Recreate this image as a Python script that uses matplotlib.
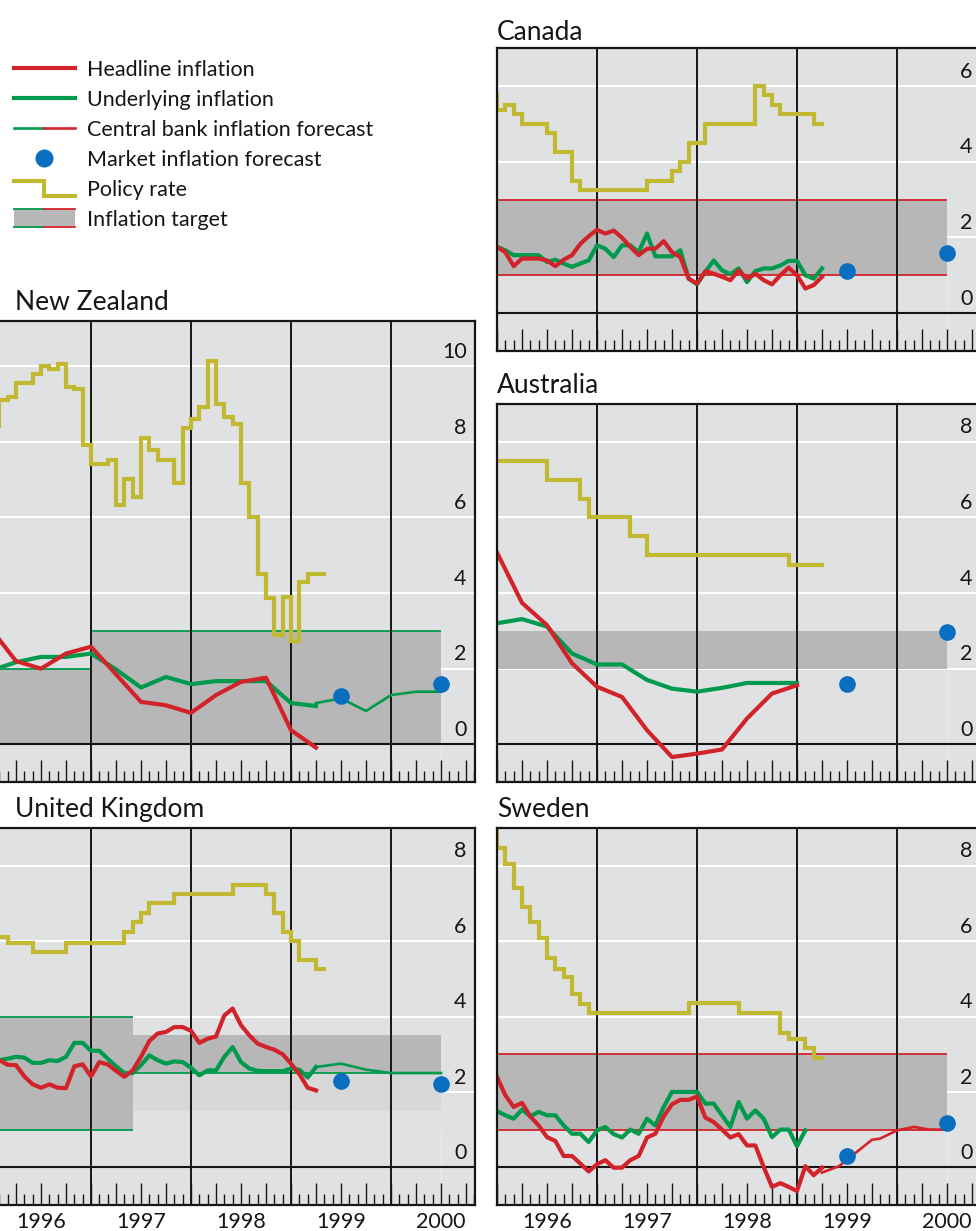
import numpy as np
import matplotlib
matplotlib.use("Agg")
import matplotlib.pyplot as plt
from matplotlib.lines import Line2D
from matplotlib.patches import Rectangle
from matplotlib.legend_handler import HandlerBase
from matplotlib.ticker import FixedLocator, FuncFormatter

plt.rcParams["font.family"] = ["Lato", "DejaVu Sans"]

W, H = 976, 1231

RED = "#d2232a"
GREEN = "#009a4e"
BLUE = "#0a6ec0"
OLIVE = "#c2b933"
BG = "#e0e1e3"
BAND = "#b7b7b7"
BAND_LIGHT = "#d8d8d8"
INK = "#151515"

year_lines = [1997, 1998, 1999, 2000]
market_x = [1999.5, 2000.5]

# ---- Canada (monthly from Jan 1996, policy rate from Dec 1995)
can_headline = [1.75, 1.61, 1.24, 1.44, 1.44, 1.44, 1.39, 1.24, 1.41, 1.53,
                1.83, 2.03, 2.20, 2.10, 2.18, 1.99, 1.75, 1.53, 1.70, 1.70,
                1.90, 1.61, 1.48, 0.91, 0.78, 1.11, 1.04, 0.96, 0.87, 1.13,
                0.91, 1.04, 0.87, 0.76, 1.00, 1.20, 1.00, 0.65, 0.74, 0.96]
can_underlying = [1.75, 1.66, 1.53, 1.53, 1.53, 1.53, 1.35, 1.41, 1.31, 1.22,
                  1.31, 1.39, 1.79, 1.70, 1.48, 1.79, 1.79, 1.61, 2.10, 1.50,
                  1.50, 1.50, 1.66, 0.91, 0.76, 1.09, 1.39, 1.13, 1.03, 1.18,
                  0.82, 1.11, 1.18, 1.18, 1.26, 1.38, 1.38, 1.00, 0.91, 1.18]
can_rate = [5.75, 5.35, 5.5, 5.25, 5.0, 5.0, 5.0, 4.75, 4.25, 4.25, 3.5,
            3.25, 3.25, 3.25, 3.25, 3.25, 3.25, 3.25, 3.25, 3.5, 3.5, 3.5,
            3.75, 4.0, 4.5, 4.5, 5.0, 5.0, 5.0, 5.0, 5.0, 5.0, 6.0, 5.75,
            5.5, 5.25, 5.25, 5.25, 5.25, 5.0, 5.0]
can_market = [1.1, 1.6]
can_bands = [(1996.0, 2000.5, 1.0, 3.0, BAND)]
can_edges = [(1996.0, 2000.5, 1.0, RED), (1996.0, 2000.5, 3.0, RED)]

# ---- New Zealand (quarterly inflation, monthly policy rate)
nz_quarters = [1996.0, 1996.25, 1996.5, 1996.75, 1997.0, 1997.25, 1997.5,
               1997.75, 1998.0, 1998.25, 1998.5, 1998.75, 1999.0, 1999.25]
nz_headline = [3.05, 2.2, 2.0, 2.4, 2.58, 1.85, 1.12, 1.03, 0.83, 1.3,
               1.65, 1.76, 0.37, -0.09]
nz_underlying = [1.95, 2.17, 2.31, 2.31, 2.4, 1.98, 1.5, 1.78, 1.59, 1.67,
                 1.67, 1.67, 1.09, 1.01]
nz_forecast_x = [1999.25, 1999.5, 1999.75, 2000.0, 2000.25, 2000.5]
nz_forecast = [1.09, 1.21, 0.88, 1.30, 1.39, 1.39]
nz_rate = [8.41, 8.41, 9.11, 9.18, 9.57, 9.57, 9.80, 10.01, 9.92, 10.07,
           9.45, 9.40, 7.92, 7.42, 7.42, 7.51, 6.33, 7.01, 6.53, 8.10,
           7.79, 7.51, 7.51, 6.91, 8.36, 8.60, 8.92, 10.13, 9.01, 8.67,
           8.48, 6.92, 6.00, 4.50, 3.86, 2.89, 3.89, 2.74, 4.30, 4.50,
           4.50, 4.50]
nz_market = [1.28, 1.60]
nz_bands = [(1996.0, 1997.0, 0.0, 2.0, BAND), (1997.0, 2000.5, 0.0, 3.0, BAND)]
nz_edges = [(1996.0, 1997.0, 0.0, GREEN), (1996.0, 1997.0, 2.0, GREEN),
            (1997.0, 2000.5, 0.0, GREEN), (1997.0, 2000.5, 3.0, GREEN)]

# ---- Australia (quarterly inflation)
aus_quarters = [1996.0, 1996.25, 1996.5, 1996.75, 1997.0, 1997.25, 1997.5,
                1997.75, 1998.0, 1998.25, 1998.5, 1998.75, 1999.0]
aus_headline = [5.07, 3.74, 3.15, 2.14, 1.52, 1.25, 0.37, -0.34, -0.25,
                -0.14, 0.68, 1.34, 1.56]
aus_underlying = [3.20, 3.31, 3.11, 2.40, 2.11, 2.11, 1.70, 1.47, 1.39,
                  1.49, 1.62, 1.62, 1.62]
aus_rate = [7.5, 7.5, 7.5, 7.5, 7.5, 7.5, 7.5, 7.0, 7.0, 7.0, 7.0, 6.5,
            6.0, 6.0, 6.0, 6.0, 6.0, 5.5, 5.5, 5.0, 5.0, 5.0, 5.0, 5.0,
            5.0, 5.0, 5.0, 5.0, 5.0, 5.0, 5.0, 5.0, 5.0, 5.0, 5.0, 5.0,
            4.75, 4.75, 4.75, 4.75, 4.75]
aus_market = [1.6, 2.98]
aus_bands = [(1996.0, 2000.5, 2.0, 3.0, BAND)]
aus_edges = []

# ---- United Kingdom (monthly)
uk_headline = [2.90, 2.84, 2.72, 2.71, 2.41, 2.20, 2.11, 2.20, 2.11, 2.10,
               2.68, 2.73, 2.41, 2.79, 2.73, 2.56, 2.40, 2.57, 2.93, 3.35,
               3.55, 3.59, 3.72, 3.72, 3.62, 3.30, 3.41, 3.47, 4.03, 4.21,
               3.77, 3.50, 3.28, 3.19, 3.12, 3.00, 2.75, 2.47, 2.11, 2.04]
uk_underlying = [2.80, 2.84, 2.88, 2.93, 2.91, 2.77, 2.77, 2.84, 2.82, 2.93,
                 3.30, 3.30, 3.09, 3.09, 2.88, 2.68, 2.50, 2.50, 2.71, 2.97,
                 2.84, 2.75, 2.81, 2.79, 2.64, 2.44, 2.57, 2.57, 2.93, 3.19,
                 2.79, 2.62, 2.56, 2.55, 2.55, 2.55, 2.62, 2.59, 2.38, 2.66]
uk_forecast_x = [1999.25, 1999.5, 1999.75, 2000.0, 2000.5]
uk_forecast = [2.66, 2.75, 2.59, 2.50, 2.50]
uk_rate = [6.5, 6.1, 6.1, 5.95, 5.95, 5.95, 5.7, 5.7, 5.7, 5.7, 5.95, 5.95,
           5.95, 5.95, 5.95, 5.95, 5.95, 6.25, 6.5, 6.75, 7.0, 7.0, 7.0,
           7.25, 7.25, 7.25, 7.25, 7.25, 7.25, 7.25, 7.5, 7.5, 7.5, 7.5,
           7.25, 6.75, 6.25, 6.0, 5.5, 5.5, 5.25, 5.25]
uk_market = [2.29, 2.20]
uk_bands = [(1996.0, 1997.42, 1.0, 4.0, BAND),
            (1997.42, 2000.5, 2.5, 3.5, BAND),
            (1997.42, 2000.5, 1.5, 2.5, BAND_LIGHT)]
uk_edges = [(1996.0, 1997.42, 1.0, GREEN), (1996.0, 1997.42, 4.0, GREEN),
            (1997.42, 2000.5, 2.5, GREEN)]

# ---- Sweden (monthly)
swe_headline = [2.40, 1.91, 1.60, 1.71, 1.35, 1.11, 0.80, 0.70, 0.30, 0.30,
                0.10, -0.11, 0.08, 0.19, -0.01, -0.01, 0.19, 0.30, 0.79, 0.89,
                1.35, 1.67, 1.79, 1.79, 1.88, 1.32, 1.20, 1.00, 0.79, 0.88,
                0.58, 0.58, 0.01, -0.52, -0.42, -0.52, -0.63, 0.03, -0.21, -0.01]
swe_underlying = [1.49, 1.38, 1.29, 1.53, 1.35, 1.47, 1.38, 1.38, 1.11, 0.89,
                  0.89, 0.67, 0.98, 1.07, 0.88, 0.79, 1.00, 0.89, 1.29, 1.11,
                  1.60, 2.00, 2.00, 2.00, 2.00, 1.69, 1.69, 1.38, 1.07, 1.73,
                  1.29, 1.51, 1.29, 0.80, 1.00, 1.00, 0.56, 0.98]
swe_forecast_x = [1999.25, 1999.42, 1999.5, 1999.75, 1999.83, 2000.0,
                  2000.17, 2000.33, 2000.5]
swe_forecast = [-0.14, 0.03, 0.20, 0.73, 0.76, 0.98, 1.07, 1.00, 1.00]
swe_rate = [8.91, 8.48, 8.05, 7.41, 6.91, 6.51, 6.09, 5.56, 5.27, 5.05,
            4.61, 4.34, 4.09, 4.09, 4.09, 4.09, 4.09, 4.09, 4.09, 4.09,
            4.09, 4.09, 4.09, 4.09, 4.36, 4.36, 4.36, 4.36, 4.36, 4.36,
            4.09, 4.09, 4.09, 4.09, 4.09, 3.57, 3.39, 3.39, 3.16, 2.90, 2.90]
swe_market = [0.29, 1.18]
swe_bands = [(1996.0, 2000.5, 1.0, 3.0, BAND)]
swe_edges = [(1996.0, 2000.5, 1.0, RED), (1996.0, 2000.5, 3.0, RED)]


def monthly(values, first_month=0):
    # first_month=-1 means the series begins in Dec 1995
    return 1996 + (np.arange(len(values)) + first_month) / 12


def rect(x0, y_top, y_bot, w=484):
    return [x0 / W, 1 - y_bot / H, w / W, (y_bot - y_top) / H]


quarters = 1996 + np.arange(20) * 0.25
months = 1996 + np.arange(59) / 12


def year_fmt(x, pos):
    if abs((x - 0.5) - round(x - 0.5)) < 1e-6:
        return str(int(round(x - 0.5)))
    return ""


fig = plt.figure(figsize=(W / 100, H / 100), dpi=100)


def panel(box, title, ylim, yticks, bands, edges, rate, head_x, head,
          under_x, under, market, forecast=None, xlabels=False, title_dx=0,
          title_dy=8):
    ax = fig.add_axes(box)
    ax.set_facecolor(BG)
    ax.set_xlim(1996.0, 2000.84)
    ax.set_ylim(*ylim)

    for v in yticks:
        if v == 0:
            ax.axhline(v, color=INK, lw=1.5, zorder=2.6)
        else:
            ax.axhline(v, color="white", lw=1.5, zorder=0.5)
        ax.annotate(str(v), xy=(1, v), xycoords=("axes fraction", "data"),
                    xytext=(-6, 6), textcoords="offset points",
                    ha="right", va="baseline", fontsize=15.5, color=INK,
                    zorder=7)

    lo_edge = min(b[2] for b in bands)
    ax.vlines(2000.5, ylim[0], lo_edge, color="#ececec", lw=0.8, zorder=0.6)
    for x0, x1, lo, hi, col in bands:
        ax.fill_between([x0, x1], lo, hi, color=col, lw=0, zorder=1)
    for x0, x1, y, col in edges:
        ax.hlines(y, x0, x1, color=col, lw=1.3, zorder=2)

    for yr in year_lines:
        ax.axvline(yr, color=INK, lw=1.4, zorder=2.5)

    ax.plot(monthly(rate, -1), rate, drawstyle="steps-post", color=OLIVE,
            lw=3, solid_joinstyle="miter", zorder=3)
    ax.plot(under_x, under, color=GREEN, lw=3, solid_joinstyle="round",
            zorder=4)
    ax.plot(head_x, head, color=RED, lw=3, solid_joinstyle="round", zorder=5)
    if forecast is not None:
        fx, fy, fc = forecast
        ax.plot(fx, fy, color=fc, lw=1.9, zorder=4.5)
    ax.plot(market_x, market, "o", color=BLUE, ms=12, mew=0, zorder=6,
            clip_on=False)

    ax.xaxis.set_major_locator(FixedLocator(quarters))
    ax.xaxis.set_minor_locator(FixedLocator(months))
    ax.xaxis.set_major_formatter(FuncFormatter(year_fmt))
    ax.tick_params(axis="x", which="major", direction="in", length=15.5,
                   width=1.0, color=INK, labelsize=15.5, pad=5,
                   labelbottom=xlabels, labelcolor=INK)
    ax.tick_params(axis="x", which="minor", direction="in", length=8,
                   width=1.0, color=INK)
    ax.tick_params(axis="y", left=False, labelleft=False)
    for s in ax.spines.values():
        s.set_color(INK)
        s.set_linewidth(1.6)
        s.set_zorder(8)

    ax.annotate(title, xy=(0, 1), xycoords="axes fraction",
                xytext=(title_dx, title_dy), textcoords="offset points",
                ha="left", va="baseline", fontsize=19, color=INK)
    return ax


panel(rect(497, 48, 351), "Canada", (-1, 7), [0, 2, 4, 6], can_bands,
      can_edges, can_rate, monthly(can_headline), can_headline,
      monthly(can_underlying), can_underlying, can_market, title_dy=6)

panel(rect(-9, 321, 782), "New Zealand", (-1, 11.2), [0, 2, 4, 6, 8, 10],
      nz_bands, nz_edges, nz_rate, nz_quarters, nz_headline, nz_quarters,
      nz_underlying, nz_market, forecast=(nz_forecast_x, nz_forecast, GREEN),
      title_dx=17)

panel(rect(497, 404, 782), "Australia", (-1, 9), [0, 2, 4, 6, 8],
      aus_bands, aus_edges, aus_rate, aus_quarters, aus_headline,
      aus_quarters, aus_underlying, aus_market)

panel(rect(-9, 828, 1205), "United Kingdom", (-1, 9), [0, 2, 4, 6, 8],
      uk_bands, uk_edges, uk_rate, monthly(uk_headline), uk_headline,
      monthly(uk_underlying), uk_underlying, uk_market,
      forecast=(uk_forecast_x, uk_forecast, GREEN), xlabels=True, title_dx=17)

panel(rect(497, 828, 1205), "Sweden", (-1, 9), [0, 2, 4, 6, 8],
      swe_bands, swe_edges, swe_rate, monthly(swe_headline), swe_headline,
      monthly(swe_underlying), swe_underlying, swe_market,
      forecast=(swe_forecast_x, swe_forecast, RED), xlabels=True)


# ---- legend with hand-made glyphs
class StepHandler(HandlerBase):
    def create_artists(self, legend, orig_handle, xdescent, ydescent,
                       width, height, fontsize, trans):
        x0, y0 = -xdescent, -ydescent
        xs = [x0, x0 + width / 2, x0 + width / 2, x0 + width]
        ys = [y0 + height, y0 + height, y0, y0]
        art = Line2D(xs, ys, color=OLIVE, lw=3, solid_joinstyle="miter")
        art.set_transform(trans)
        return [art]


class SplitHandler(HandlerBase):
    def __init__(self, band=False):
        super().__init__()
        self.band = band

    def create_artists(self, legend, orig_handle, xdescent, ydescent,
                       width, height, fontsize, trans):
        x0, y0 = -xdescent, -ydescent
        mid = x0 + width / 2
        arts = []
        if self.band:
            lo, hi = y0 - 0.1 * height, y0 + 1.1 * height
            arts.append(Rectangle((x0, lo), width, hi - lo, facecolor=BAND,
                                  lw=0))
            levels = [lo, hi]
            lw = 1.3
        else:
            levels = [y0 + height / 2]
            lw = 1.9
        for y in levels:
            arts.append(Line2D([x0, mid], [y, y], color=GREEN, lw=lw))
            arts.append(Line2D([mid, x0 + width], [y, y], color=RED, lw=lw))
        for a in arts:
            a.set_transform(trans)
        return arts


h_head = Line2D([], [], color=RED, lw=3)
h_under = Line2D([], [], color=GREEN, lw=3)
h_cb = Line2D([], [])
h_mkt = Line2D([], [], marker="o", ls="none", color=BLUE, ms=13, mew=0)
h_rate = Line2D([], [])
h_target = Line2D([], [])

fig.legend([h_head, h_under, h_cb, h_mkt, h_rate, h_target],
           ["Headline inflation", "Underlying inflation",
            "Central bank inflation forecast", "Market inflation forecast",
            "Policy rate", "Inflation target"],
           handler_map={h_cb: SplitHandler(), h_rate: StepHandler(),
                        h_target: SplitHandler(band=True)},
           loc="upper left", bbox_to_anchor=(14 / W, 1 - 60 / H),
           frameon=False, fontsize=15.5, handlelength=2.83, handleheight=0.7,
           handletextpad=0.56, labelspacing=0.46, borderpad=0,
           borderaxespad=0, numpoints=1, labelcolor=INK)

fig.savefig("out.png", dpi=100, facecolor="white")
